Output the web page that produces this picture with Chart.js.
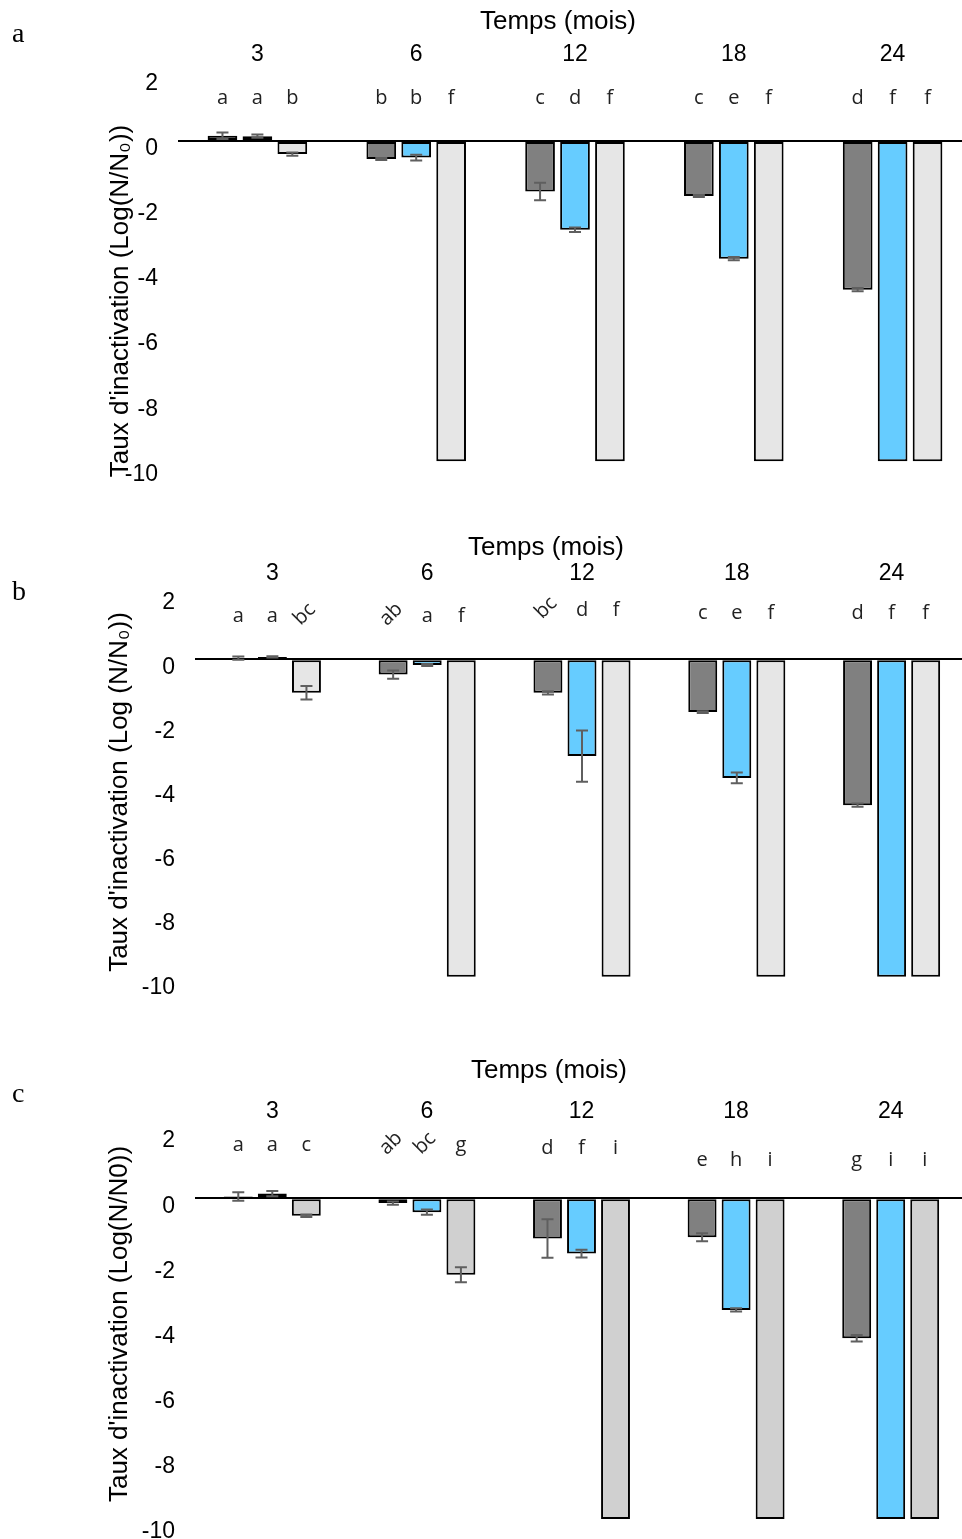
<!DOCTYPE html>
<html>
<head>
<meta charset="utf-8">
<script src="https://cdn.jsdelivr.net/npm/chart.js@4.4.1/dist/chart.umd.min.js"></script>
<style>
    body { margin: 0; background: #fff; width: 962px; height: 1539px; position: relative; overflow: hidden; }
    canvas { position: absolute; left: 0; }
</style>
</head>
<body>
<canvas id="chartA" width="980" height="500" style="top:0px"></canvas>
<canvas id="chartB" width="980" height="500" style="top:520px"></canvas>
<canvas id="chartC" width="980" height="520" style="top:1050px"></canvas>

<script>
// mois de stockage
const mois = ['3', '6', '12', '18', '24']

// panneau a
const aFonce = [0.16, -0.55, -1.55, -1.69, -4.57]
const aBleu = [0.15, -0.51, -2.73, -3.62, -9.85]
const aClair = [-0.4, -9.85, -9.85, -9.85, -9.85]
const aErrFonce = [0.1, 0.03, 0.27, 0.03, 0.05]
const aErrBleu = [0.05, 0.09, 0.07, 0.05, 0]
const aErrClair = [0.05, 0, 0, 0, 0]
const aLettres = [['a', 'a', 'b'], ['b', 'b', 'f'], ['c', 'd', 'f'], ['c', 'e', 'f'], ['d', 'f', 'f']]

// panneau b
const bFonce = [0.03, -0.48, -1.05, -1.65, -4.55]
const bBleu = [0.07, -0.18, -3.02, -3.7, -9.9]
const bClair = [-1.05, -9.9, -9.9, -9.9, -9.9]
const bErrFonce = [0.05, 0.13, 0.05, 0.03, 0.05]
const bErrBleu = [0.02, 0.03, 0.8, 0.17, 0]
const bErrClair = [0.21, 0, 0, 0, 0]
const bLettres = [['a', 'a', 'bc'], ['ab', 'a', 'f'], ['bc', 'd', 'f'], ['c', 'e', 'f'], ['d', 'f', 'f']]

// panneau c
const cFonce = [0.05, -0.15, -1.24, -1.2, -4.3]
const cBleu = [0.14, -0.43, -1.7, -3.43, -9.85]
const cClair = [-0.54, -2.35, -9.85, -9.85, -9.85]
const cErrFonce = [0.13, 0.05, 0.59, 0.12, 0.1]
const cErrBleu = [0.08, 0.08, 0.12, 0.05, 0]
const cErrClair = [0.04, 0.23, 0, 0, 0]
const cLettres = [['a', 'a', 'c'], ['ab', 'bc', 'g'], ['d', 'f', 'i'], ['e', 'h', 'i'], ['g', 'i', 'i']]

const policeAxe = 'Liberation Sans, Arial, sans-serif'

// plugin: barres d'erreur, lettres, titres
const decor = cfg => ({
    id: 'decor',
    afterDatasetsDraw(chart) {
        const ctx = chart.ctx
        const y = chart.scales.y
        ctx.save()
        ctx.strokeStyle = '#5f5f5f'
        ctx.lineWidth = 2
        chart.data.datasets.forEach((ds, i) => {
            chart.getDatasetMeta(i).data.forEach((bar, j) => {
                const e = ds.errors[j]
                if (!e) return
                const y1 = y.getPixelForValue(ds.data[j] + e)
                const y2 = y.getPixelForValue(ds.data[j] - e)
                ctx.beginPath()
                ctx.moveTo(bar.x, y1); ctx.lineTo(bar.x, y2)
                ctx.moveTo(bar.x - 6, y1); ctx.lineTo(bar.x + 6, y1)
                ctx.moveTo(bar.x - 6, y2); ctx.lineTo(bar.x + 6, y2)
                ctx.stroke()
            })
        })
        ctx.restore()
    },
    afterDraw(chart) {
        const ctx = chart.ctx
        const y = chart.scales.y
        ctx.save()
        // lettres de significativite
        ctx.fillStyle = '#222'
        ctx.font = '20px "Open Sans", sans-serif'
        ctx.textAlign = 'center'
        ctx.textBaseline = 'alphabetic'
        chart.data.datasets.forEach((ds, i) => {
            chart.getDatasetMeta(i).data.forEach((bar, j) => {
                const txt = cfg.lettres[j][i]
                const yy = y.getPixelForValue(cfg.lettreY[j])
                if (txt.length > 1) {
                    ctx.save()
                    ctx.translate(bar.x + 2, yy - 4)
                    ctx.rotate(-Math.PI / 4)
                    ctx.fillText(txt, 0, 0)
                    ctx.restore()
                } else {
                    ctx.fillText(txt, bar.x, yy)
                }
            })
        })
        // lettre du panneau
        ctx.fillStyle = '#000'
        ctx.textAlign = 'left'
        ctx.font = '28px "Liberation Serif", "Times New Roman", serif'
        ctx.fillText(cfg.panneau, 12, cfg.panneauY)
        // titre axe x
        ctx.font = '26px ' + policeAxe
        ctx.textAlign = 'center'
        ctx.fillText('Temps (mois)', cfg.titreX[0], cfg.titreX[1])
        // titre axe y
        ctx.translate(cfg.titreY[0], cfg.titreY[1])
        ctx.rotate(-Math.PI / 2)
        ctx.fillText(cfg.titreAxeY, 0, 0)
        ctx.restore()
    }
})

function creaPannello(id, cfg) {
    const canvas = document.getElementById(id)
    const commun = {
        borderColor: '#000',
        borderWidth: 2,
        borderSkipped: false,
        categoryPercentage: 0.66,
        barPercentage: 0.85
    }
    return new Chart(canvas, {
        type: 'bar',
        data: {
            labels: mois,
            datasets: [
                { ...commun, data: cfg.fonce, errors: cfg.errFonce, backgroundColor: '#808080' },
                { ...commun, data: cfg.bleu, errors: cfg.errBleu, backgroundColor: '#66CCFF' },
                { ...commun, data: cfg.clair, errors: cfg.errClair, backgroundColor: cfg.couleurClair }
            ]
        },
        options: {
            responsive: false,
            animation: false,
            layout: { padding: { top: 0, left: 0, right: canvas.width - cfg.droite, bottom: canvas.height - cfg.bas } },
            plugins: {
                legend: { display: false },
                tooltip: { enabled: false }
            },
            scales: {
                x: {
                    position: 'top',
                    grid: { display: false },
                    border: { display: false },
                    ticks: { color: '#000', font: { family: policeAxe, size: 23 }, padding: 0 },
                    afterFit: s => { s.height = cfg.haut }
                },
                y: {
                    min: -10,
                    max: 2,
                    ticks: { stepSize: 2, color: '#000', font: { family: policeAxe, size: 23 }, padding: 20, labelOffset: 8 },
                    grid: {
                        color: c => (c.tick && c.tick.value === 0) ? '#000' : 'rgba(0,0,0,0)',
                        lineWidth: 2,
                        drawTicks: false
                    },
                    border: { display: false },
                    afterFit: s => { s.width = cfg.gauche }
                }
            }
        },
        plugins: [decor(cfg)]
    })
}

creaPannello('chartA', {
    fonce: aFonce, bleu: aBleu, clair: aClair,
    errFonce: aErrFonce, errBleu: aErrBleu, errClair: aErrClair,
    lettres: aLettres, lettreY: [1.13, 1.13, 1.13, 1.13, 1.13],
    couleurClair: '#E6E6E6',
    haut: 76, bas: 468, gauche: 178, droite: 972,
    panneau: 'a', panneauY: 42,
    titreX: [558, 29], titreY: [128, 301],
    titreAxeY: 'Taux d\'inactivation (Log(N/N\u2080))'
})

creaPannello('chartB', {
    fonce: bFonce, bleu: bBleu, clair: bClair,
    errFonce: bErrFonce, errBleu: bErrBleu, errClair: bErrClair,
    lettres: bLettres, lettreY: [1.15, 1.15, 1.35, 1.25, 1.25],
    couleurClair: '#E6E6E6',
    haut: 75, bas: 460, gauche: 195, droite: 969,
    panneau: 'b', panneauY: 80,
    titreX: [546, 35], titreY: [127, 272],
    titreAxeY: 'Taux d\'inactivation (Log (N/N\u2080))'
})

creaPannello('chartC', {
    fonce: cFonce, bleu: cBleu, clair: cClair,
    errFonce: cErrFonce, errBleu: cErrBleu, errClair: cErrClair,
    lettres: cLettres, lettreY: [1.44, 1.44, 1.37, 1.0, 1.0],
    couleurClair: '#D0D0D0',
    haut: 83, bas: 474, gauche: 195, droite: 968,
    panneau: 'c', panneauY: 52,
    titreX: [549, 28], titreY: [127, 274],
    titreAxeY: 'Taux d\'inactivation (Log(N/N0))'
})
</script>
</body>
</html>
